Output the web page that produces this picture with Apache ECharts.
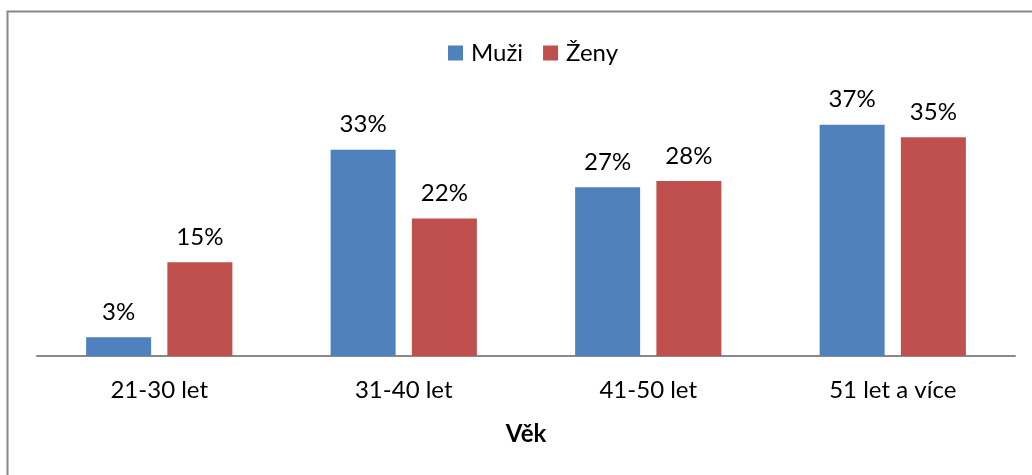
<!DOCTYPE html>
<html><head><meta charset="utf-8">
<script src="https://cdn.jsdelivr.net/npm/echarts@6/dist/echarts.min.js"></script>
<style>html,body{margin:0;padding:0;background:#fff}#c{width:1032px;height:475px}</style>
</head><body><div id="c"></div>
<script>
const categories = ['21-30 let', '31-40 let', '41-50 let', '51 let a více'];
const muzi = [3, 33, 27, 37];
const zeny = [15, 22, 28, 35];
const seriesNames = ['Muži', 'Ženy'];
const axisName = 'Věk';
const FONT = 'Lato, "Open Sans", sans-serif';
const FS = 24;
const chart = echarts.init(document.getElementById('c'), null, {renderer: 'canvas'});
const lbl = {show: true, position: 'top', distance: 13, color: '#000', fontFamily: FONT, fontSize: FS, formatter: p => p.value + '%'};
chart.setOption({
  animation: false,
  textStyle: {fontFamily: FONT},
  graphic: [{type: 'rect', shape: {x: 7.5, y: 11.5, width: 1100, height: 600}, style: {fill: 'none', stroke: '#878787', lineWidth: 2}, silent: true}],
  legend: {top: 36, left: 443, itemWidth: 15, itemHeight: 15, itemGap: 20, icon: 'rect',
    textStyle: {fontFamily: FONT, fontSize: FS, color: '#000', padding: [0, 0, 0, 3]}, data: seriesNames},
  grid: {left: 37, right: 17, top: 106, bottom: 119, containLabel: false},
  xAxis: {type: 'category', data: categories, name: axisName, nameLocation: 'middle', nameGap: 66,
    nameTextStyle: {fontFamily: FONT, fontSize: FS, fontWeight: 'bold', color: '#000'},
    axisLine: {lineStyle: {color: '#898989', width: 2}}, axisTick: {show: false},
    axisLabel: {fontFamily: FONT, fontSize: FS, color: '#000', margin: 22}},
  yAxis: {type: 'value', min: 0, max: 40, show: false, splitLine: {show: false}},
  series: [
    {name: seriesNames[0], type: 'bar', data: muzi, barWidth: 65, barGap: '25%', itemStyle: {color: '#4F81BD'}, label: lbl},
    {name: seriesNames[1], type: 'bar', data: zeny, barWidth: 65, barGap: '25%', itemStyle: {color: '#C0504D'}, label: lbl}
  ]
});
</script></body></html>
